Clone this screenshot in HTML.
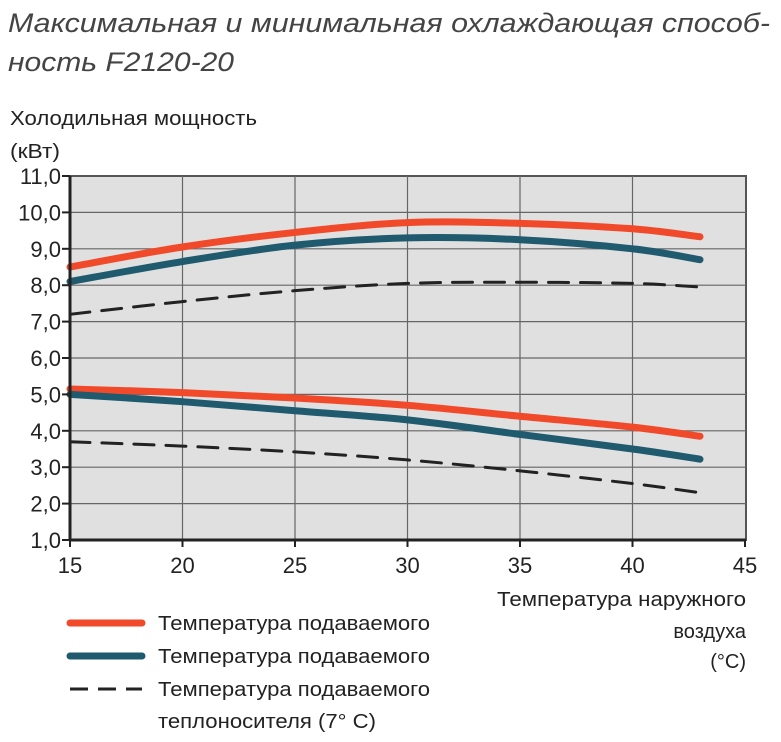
<!DOCTYPE html>
<html><head><meta charset="utf-8"><style>
body{margin:0;background:#fff;width:781px;height:737px;overflow:hidden;font-family:"Liberation Sans","DejaVu Sans",sans-serif;}
</style></head><body>
<svg id="s" width="781" height="737" xmlns="http://www.w3.org/2000/svg" font-family="Liberation Sans, DejaVu Sans, sans-serif">
<text x="8" y="32" font-size="27" font-style="italic" fill="#444" textLength="762" lengthAdjust="spacingAndGlyphs">Максимальная и минимальная охлаждающая способ-</text>
<text x="8" y="71" font-size="27" font-style="italic" fill="#444" textLength="226" lengthAdjust="spacingAndGlyphs">ность F2120-20</text>
<text x="10" y="125" font-size="20" fill="#222" textLength="247" lengthAdjust="spacingAndGlyphs">Холодильная мощность</text>
<text x="10" y="158" font-size="20" fill="#222" textLength="50" lengthAdjust="spacingAndGlyphs">(кВт)</text>
<rect x="70" y="176" width="676" height="364" fill="#e0e0e0" stroke="#555" stroke-width="2"/>
<g id="grid" stroke="#666" stroke-width="1.2"></g>
<g id="lines" fill="none" stroke-linecap="round"></g>
<line x1="70" y1="176" x2="70" y2="541" stroke="#222" stroke-width="3"/>
<line x1="69" y1="540" x2="746" y2="540" stroke="#222" stroke-width="3"/>
<g id="lab" font-size="22" fill="#222"></g>
<text x="746" y="606" font-size="20" text-anchor="end" fill="#222" textLength="249" lengthAdjust="spacingAndGlyphs">Температура наружного</text>
<text x="746" y="638" font-size="20" text-anchor="end" fill="#222">воздуха</text>
<text x="746" y="668" font-size="20" text-anchor="end" fill="#222">(°C)</text>
<line x1="70" y1="623" x2="142" y2="623" stroke="#f04a2a" stroke-width="7" stroke-linecap="round"/>
<line x1="70" y1="656" x2="142" y2="656" stroke="#1f5a6e" stroke-width="7" stroke-linecap="round"/>
<line x1="70" y1="689" x2="142" y2="689" stroke="#222" stroke-width="3" stroke-dasharray="18,10"/>
<text x="158" y="630" font-size="20" fill="#222" textLength="272" lengthAdjust="spacingAndGlyphs">Температура подаваемого</text>
<text x="158" y="663" font-size="20" fill="#222" textLength="272" lengthAdjust="spacingAndGlyphs">Температура подаваемого</text>
<text x="158" y="696" font-size="20" fill="#222" textLength="272" lengthAdjust="spacingAndGlyphs">Температура подаваемого</text>
<text x="158" y="728" font-size="20" fill="#222" textLength="218" lengthAdjust="spacingAndGlyphs">теплоносителя (7° C)</text>
</svg>
<script>
var NS="http://www.w3.org/2000/svg";
function X(t){return 70+(t-15)*22.5;}
function Y(v){return 540-(v-1)*36.4;}
function el(p,tag,a,txt){var e=document.createElementNS(NS,tag);for(var k in a)e.setAttribute(k,a[k]);if(txt)e.textContent=txt;document.getElementById(p).appendChild(e);}
for(var v=2;v<=10;v++)el("grid","line",{x1:70,x2:746,y1:Y(v),y2:Y(v)});
for(var t=20;t<=40;t+=5)el("grid","line",{x1:X(t),x2:X(t),y1:176,y2:540});
for(var v=1;v<=11;v++){el("lab","text",{x:61,y:Y(v)+8,"text-anchor":"end"},v+",0");el("lab","line",{x1:62,x2:70,y1:Y(v),y2:Y(v),stroke:"#222","stroke-width":2});}
for(var t=15;t<=45;t+=5){el("lab","text",{x:X(t),y:573,"text-anchor":"middle"},""+t);el("lab","line",{x1:X(t),x2:X(t),y1:540,y2:547,stroke:"#222","stroke-width":2});}
var xs=[15,20,25,30,35,40,43];
var S=[
[[8.5,9.05,9.45,9.72,9.7,9.55,9.33],"#f04a2a",7,null],
[[8.1,8.65,9.1,9.3,9.25,9.0,8.7],"#1f5a6e",7,null],
[[7.2,7.55,7.85,8.05,8.08,8.05,7.95],"#222",3,"20,12"],
[[5.15,5.05,4.9,4.7,4.4,4.1,3.85],"#f04a2a",7,null],
[[5.0,4.8,4.55,4.3,3.9,3.5,3.22],"#1f5a6e",7,null],
[[3.7,3.58,3.42,3.2,2.9,2.55,2.3],"#222",3,"20,12"]];
S.forEach(function(s){
 var p=xs.map(function(t,i){return [X(t),Y(s[0][i])];});
 var d="M"+p[0][0]+","+p[0][1];
 for(var i=0;i<p.length-1;i++){
  var p0=p[i-1]||p[i],p1=p[i],p2=p[i+1],p3=p[i+2]||p2;
  d+=" C"+(p1[0]+(p2[0]-p0[0])/6)+","+(p1[1]+(p2[1]-p0[1])/6)+" "+(p2[0]-(p3[0]-p1[0])/6)+","+(p2[1]-(p3[1]-p1[1])/6)+" "+p2[0]+","+p2[1];
 }
 var a={d:d,stroke:s[1],"stroke-width":s[2]};if(s[3])a["stroke-dasharray"]=s[3];
 el("lines","path",a);
});
</script>
</body></html>
